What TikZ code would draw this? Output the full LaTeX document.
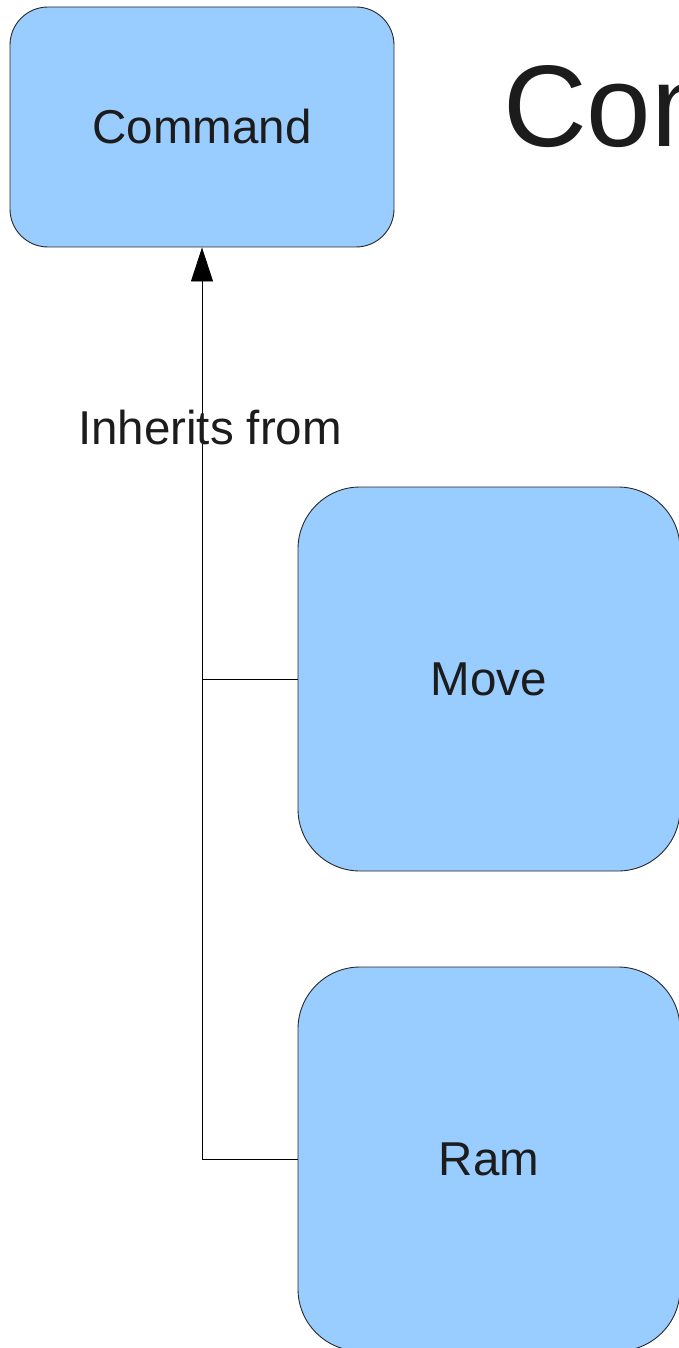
\documentclass[tikz,border=0pt]{standalone}
\usepackage{fontspec}
\setmainfont{Liberation Sans}
\usetikzlibrary{arrows.meta}
\definecolor{boxfill}{RGB}{153,204,255}
\definecolor{boxline}{RGB}{40,40,40}
\definecolor{inktext}{RGB}{28,28,28}
\tikzset{
  classbox/.style={draw=boxline, line width=0.9pt, fill=boxfill, text=inktext,
    font=\fontsize{47.5}{57}\selectfont, inner sep=0pt},
  link/.style={draw=black, line width=0.9pt},
  labeltext/.style={text=inktext, font=\fontsize{47.5}{57}\selectfont, inner sep=0pt}
}
\begin{document}
\begin{tikzpicture}[x=1pt, y=-1pt]
  \useasboundingbox (0,0) rectangle (679,1348);
  \clip (0,0) rectangle (679,1348);
  \fill[white] (0,0) rectangle (679,1348);

  % class boxes
  \node[classbox, rounded corners=38pt, minimum width=384pt, minimum height=240pt]
    (command) at (202,127) {Command};
  \node[classbox, rounded corners=62pt, minimum width=382pt, minimum height=384pt]
    (move) at (489,679) {Move};
  \node[classbox, rounded corners=62pt, minimum width=382pt, minimum height=384pt]
    (ram) at (489,1159) {Ram};

  % inheritance connectors
  \draw[link, -{Triangle[length=34pt, width=22pt]}] (ram.west) -| (command.south);
  \coordinate (join) at (move.west -| command.south);
  \draw[link] (move.west) -- (join);

  % labels
  \node[labeltext] (inherits) at (210,428) {Inherits from};
  \node[text=inktext, font=\fontsize{116}{139}\selectfont, inner sep=0pt, anchor=base west]
    (title) at (503,147) {Com};
\end{tikzpicture}
\end{document}
